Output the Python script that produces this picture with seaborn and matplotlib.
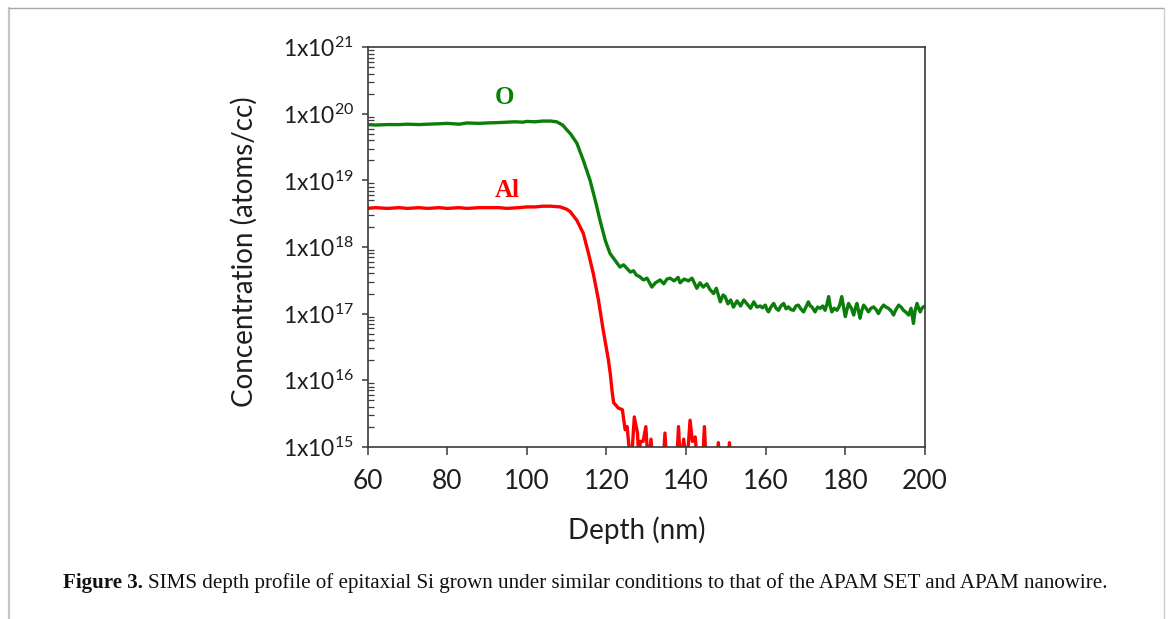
import numpy as np
import pandas as pd
import matplotlib
matplotlib.use("Agg")
import matplotlib.pyplot as plt
from matplotlib.ticker import LogLocator, NullFormatter, FixedLocator, FixedFormatter
from matplotlib.lines import Line2D
import seaborn as sns

# O profile (depth in nm, concentration in atoms/cc)
o_depth = [60, 62, 65, 68, 70, 73, 75, 78, 80, 83, 85, 88, 90, 93, 95, 97, 99, 100, 102, 104,
           106, 107.5, 109, 110, 111, 112.6, 114.2, 115.9, 117.2, 118.4, 119.7, 120.9, 122, 123.4,
           124.3, 125.1, 126, 126.8, 127.5, 128.3, 129.3, 130.2, 131.4, 132.3, 133.5, 134.4, 135.2,
           136, 137, 138, 138.5, 139.5, 140.6, 141.5, 142.7, 143.5, 144.3, 145.2, 146, 146.9,
           147.6, 148.6, 149.3, 149.8, 150.5, 151.2, 151.9, 152.8, 153.7, 154.5, 155.3, 156.2,
           157, 157.8, 158.6, 159.2, 159.9, 160.3, 160.7, 161.3, 162.0, 162.6, 163.2, 163.8,
           164.5, 165.1, 165.7, 166.3, 167.0, 167.6, 168.2, 168.8, 169.5, 170.1, 170.7, 171.2,
           171.6, 172.0, 172.4, 173.0, 173.7, 174.3, 174.9, 175.4, 175.8, 176.2, 176.6, 177.2,
           177.9, 178.5, 179.1, 179.6, 180.0, 180.4, 180.8, 181.5, 182.1, 182.5, 182.9, 183.3,
           183.7, 184.1, 184.6, 185.2, 185.8, 186.4, 187.1, 187.7, 188.3, 189.0, 189.6, 190.2,
           190.8, 191.5, 192.1, 192.7, 193.4, 194.0, 194.6, 195.2, 195.9, 196.5, 197.1, 197.5,
           198.0, 198.4, 198.8, 199.2, 199.6, 200]
o_conc = [6.9e19, 6.8e19, 6.9e19, 6.9e19, 7.0e19, 6.9e19, 7.0e19, 7.1e19, 7.2e19, 7.0e19,
          7.3e19, 7.2e19, 7.3e19, 7.4e19, 7.5e19, 7.6e19, 7.5e19, 7.7e19, 7.6e19, 7.8e19,
          7.8e19, 7.6e19, 6.8e19, 5.8e19, 5.0e19, 3.6e19, 2.0e19, 1.0e19, 5.0e18, 2.5e18,
          1.26e18, 8.0e17, 6.5e17, 5.0e17, 5.4e17, 4.8e17, 4.2e17, 4.4e17, 3.8e17, 3.6e17,
          3.2e17, 3.4e17, 2.5e17, 2.9e17, 3.2e17, 2.8e17, 3.3e17, 3.4e17, 3.1e17, 3.5e17,
          2.9e17, 3.3e17, 3.1e17, 3.4e17, 2.4e17, 2.9e17, 2.5e17, 2.8e17, 2.3e17, 2.0e17,
          2.4e17, 1.5e17, 1.9e17, 1.8e17, 1.4e17, 1.6e17, 1.25e17, 1.55e17, 1.3e17, 1.6e17,
          1.4e17, 1.2e17, 1.5e17, 1.25e17, 1.3e17, 1.22e17, 1.34e17, 1.15e17, 1.06e17, 1.25e17,
          1.42e17, 1.2e17, 1.12e17, 1.3e17, 1.42e17, 1.18e17, 1.26e17, 1.15e17, 1.12e17, 1.3e17,
          1.34e17, 1.18e17, 1.06e17, 1.25e17, 1.5e17, 1.3e17, 1.26e17, 1.15e17, 1.06e17, 1.25e17,
          1.2e17, 1.3e17, 1.12e17, 1.4e17, 1.8e17, 1.3e17, 1.06e17, 1.2e17, 1.12e17, 1.3e17,
          1.8e17, 1.2e17, 9.0e16, 1.15e17, 1.42e17, 1.2e17, 9.5e16, 1.2e17, 1.42e17, 1.1e17,
          8.5e16, 1.1e17, 1.34e17, 1.2e17, 1.06e17, 1.2e17, 1.26e17, 1.15e17, 1.0e17, 1.2e17,
          1.34e17, 1.25e17, 1.2e17, 1.1e17, 9.5e16, 1.15e17, 1.34e17, 1.25e17, 1.12e17, 1.05e17,
          9.5e16, 1.2e17, 7.1e16, 1.1e17, 1.42e17, 1.2e17, 1.06e17, 1.2e17, 1.26e17, 1.3e17]

# Al profile; points under 1e15 fall below the axis floor
al_depth = [60, 62, 65, 68, 70, 73, 75, 78, 80, 83, 85, 88, 90, 93, 95, 98, 100, 102, 104, 106,
            108.4, 110, 110.9, 112.6, 114.2, 115.5, 116.7, 118, 119.2, 120.5, 121.0, 121.4, 121.8,
            123, 124, 124.7, 125.2, 125.6, 126.2, 127.0, 127.8, 128.2, 128.5, 129.2, 129.9, 130.5,
            131.2, 131.7, 134.2, 134.7, 135.2, 137.6, 138.1, 138.6, 139.4, 140.2, 141.0, 141.6,
            142.3, 142.9, 144.1, 144.6, 145.1, 147.6, 148.1, 148.6, 150.4, 150.9, 151.4]
al_conc = [3.8e18, 3.9e18, 3.8e18, 3.9e18, 3.8e18, 3.9e18, 3.8e18, 3.9e18, 3.8e18, 3.9e18,
           3.8e18, 3.9e18, 3.9e18, 3.9e18, 3.8e18, 3.9e18, 4.0e18, 4.0e18, 4.1e18, 4.1e18,
           4.0e18, 3.7e18, 3.4e18, 2.5e18, 1.6e18, 8.0e17, 4.0e17, 1.6e17, 5.6e16, 2.0e16,
           1.2e16, 7.0e15, 4.6e15, 3.8e15, 3.6e15, 1.8e15, 2.0e15, 1.1e15, 5e14, 2.8e15, 1.6e15,
           5e14, 1.2e15, 1.2e15, 2.0e15, 5e14, 1.3e15, 5e14, 5e14, 1.6e15, 5e14, 5e14, 2.0e15,
           5e14, 1.3e15, 5e14, 2.5e15, 1.2e15, 1.4e15, 5e14, 5e14, 2.0e15, 5e14, 5e14, 1.15e15,
           5e14, 5e14, 1.15e15, 5e14]

x_ticks = [60, 80, 100, 120, 140, 160, 180, 200]
y_ticks = [1e15, 1e16, 1e17, 1e18, 1e19, 1e20, 1e21]
y_labels = [r"$\mathregular{1x10^{%d}}$" % e for e in range(15, 22)]

GREEN = "#0b7d0b"
RED = "#ff0000"

sns.set_style("ticks")
plt.rcParams["font.family"] = ["Lato", "DejaVu Sans"]
plt.rcParams["mathtext.fontset"] = "custom"
plt.rcParams["mathtext.rm"] = "Lato"
plt.rcParams["mathtext.it"] = "Lato:italic"
plt.rcParams["mathtext.bf"] = "Lato:bold"

fig = plt.figure(figsize=(11.68, 6.19), dpi=100)
W, H = 1168, 619
ax = fig.add_axes([367.5 / W, 1 - 446.7 / H, (925 - 367.5) / W, (446.7 - 47.3) / H])

o_df = pd.DataFrame({"depth": o_depth, "conc": o_conc})
al_df = pd.DataFrame({"depth": al_depth, "conc": al_conc})
sns.lineplot(data=o_df, x="depth", y="conc", color=GREEN, lw=2.4, estimator=None, ax=ax)
sns.lineplot(data=al_df, x="depth", y="conc", color=RED, lw=2.4, estimator=None, ax=ax)

ax.set_yscale("log")
ax.set_xlim(60, 200)
ax.set_ylim(1e15, 1e21)
ax.xaxis.set_major_locator(FixedLocator(x_ticks))
ax.yaxis.set_major_locator(FixedLocator(y_ticks))
ax.yaxis.set_major_formatter(FixedFormatter(y_labels))
ax.yaxis.set_minor_locator(LogLocator(base=10, subs=np.arange(2, 10)))
ax.yaxis.set_minor_formatter(NullFormatter())

for s in ax.spines.values():
    s.set_color("#3a3a3a")
    s.set_linewidth(1.2)

ax.tick_params(axis="x", which="major", direction="out", length=6, width=1.1,
               color="#3a3a3a", labelsize=19, pad=10, labelcolor="#1e1e1e")
ax.tick_params(axis="y", which="major", direction="out", length=4.5, width=1.1,
               color="#3a3a3a", labelsize=16.5, pad=5, labelcolor="#1e1e1e")
ax.tick_params(axis="y", which="minor", direction="in", length=4, width=0.9, color="#3a3a3a")

ax.set_xlabel("Depth (nm)", fontsize=20, color="#1e1e1e")
ax.set_ylabel("Concentration (atoms/cc)", fontsize=20, color="#1e1e1e")
ax.xaxis.set_label_coords(0.483, -0.175)
ax.yaxis.set_label_coords(-0.196, 0.4875)

ax.text(94.5, 1.78e20, "O", color=GREEN, fontsize=18, fontweight="bold",
        family="Liberation Serif", ha="center", va="center")
ax.text(95.2, 7.1e18, "Al", color=RED, fontsize=18, fontweight="bold",
        family="Liberation Serif", ha="center", va="center")

# caption
cap_y = 1 - 583 / H
t1 = fig.text(63 / W, cap_y, "Figure 3.", fontsize=15.1, fontweight="bold",
              family="Liberation Serif", va="center", color="#111111")
fig.canvas.draw()
bb = t1.get_window_extent()
fig.text((bb.x1 + 5) / W, cap_y,
         "SIMS depth profile of epitaxial Si grown under similar conditions to that of the APAM SET and APAM nanowire.",
         fontsize=15.1, family="Liberation Serif", va="center", color="#111111")

# page frame
fig.add_artist(Line2D([9 / W, 9 / W], [0, 1 - 8 / H], color="#c4c4c4", lw=1.6))
fig.add_artist(Line2D([9 / W, 1164 / W], [1 - 8 / H, 1 - 8 / H], color="#a6a6a6", lw=1.0))
fig.add_artist(Line2D([1164 / W, 1164 / W], [0, 1 - 8 / H], color="#cccccc", lw=1.0))

fig.savefig("out.png", dpi=100)
